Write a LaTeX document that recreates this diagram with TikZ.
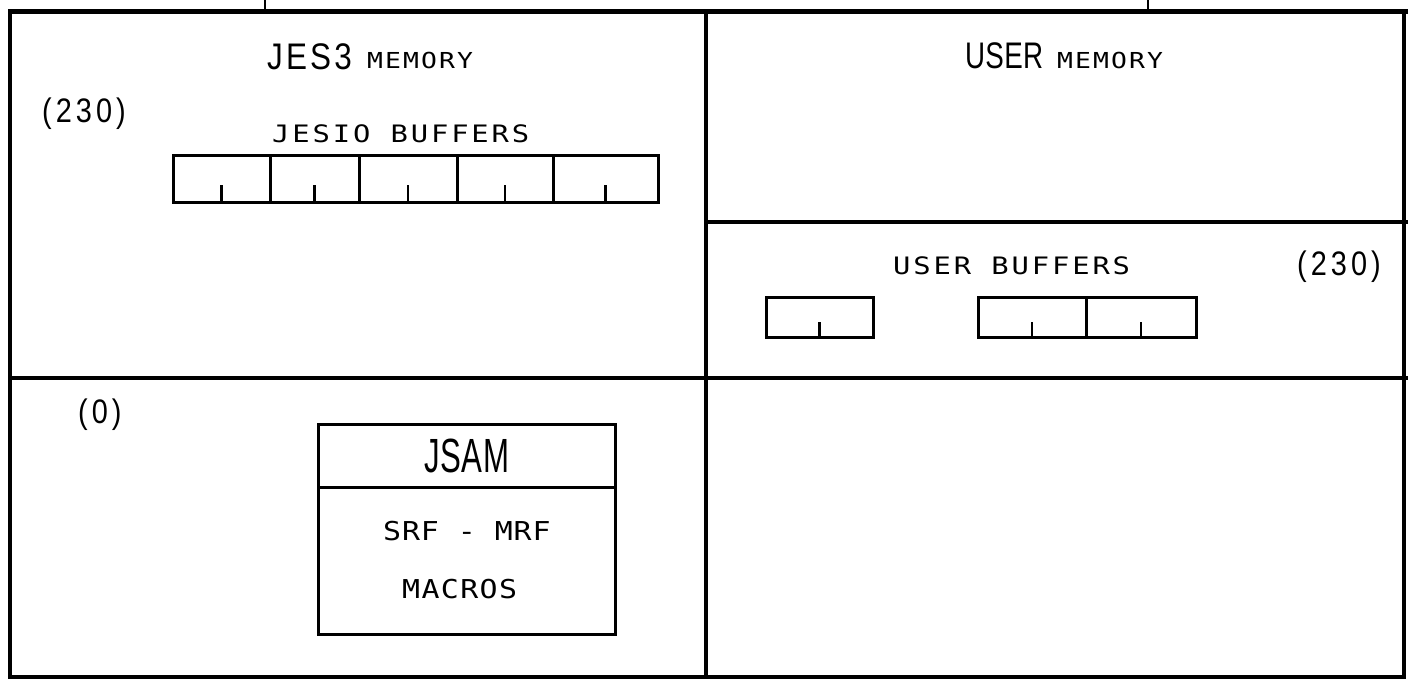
\documentclass[tikz,border=0pt]{standalone}
\usepackage{fontspec}
\usepackage{graphicx}
\setmonofont{DejaVu Sans Mono}
\setsansfont{Liberation Sans}
\newcommand\lbl[4]{\scalebox{#1}[1]{\ttfamily\fontsize{#2}{#2}\selectfont\addfontfeature{LetterSpace=#3}#4}}
\newcommand\slbl[4]{\scalebox{#1}[1]{\sffamily\fontsize{#2}{#2}\selectfont\addfontfeature{LetterSpace=#3}#4}}
\begin{document}
\begin{tikzpicture}[x=1pt,y=-1pt,
  frame/.style={line width=3.8pt},
  cell/.style={draw,line width=3pt,inner sep=0pt,minimum height=47pt},
  ucell/.style={draw,line width=3pt,inner sep=0pt,minimum height=40pt},
  tick/.style={line width=2.8pt},
  txt/.style={inner sep=0pt,anchor=base west}]
\useasboundingbox (0,0) rectangle (1408,681);
% frame
\draw[line width=5pt] (8,11) -- (1408,11);
\draw[line width=2.5pt] (265,0) -- (265,11);
\draw[line width=2.5pt] (1148,0) -- (1148,11);
\draw[frame] (10,10) -- (10,677) -- (1404,677) -- (1404,10);
\draw[frame] (706,11) -- (706,677);
\draw[line width=4.5pt] (10,378) -- (1408,378);
\draw[frame] (706,222) -- (1408,222);
% headings
\node[txt] (jes3) at (267,69) {\slbl{0.85}{37}{10}{JES3}};
\node[txt] (jmem) at (367,68) {\lbl{1.2}{22}{8}{MEMORY}};
\node[txt] (user) at (965,68) {\slbl{0.75}{37}{1}{USER}};
\node[txt] (umem) at (1057,68) {\lbl{1.2}{22}{8}{MEMORY}};
\node[txt] (n230a) at (42,122) {\slbl{0.85}{34}{14}{(230)}};
\node[txt] (n230b) at (1297,275) {\slbl{0.85}{34}{14}{(230)}};
\node[txt] (n0) at (78,423) {\slbl{0.85}{34}{14}{(0)}};
\node[txt] (jesio) at (272,142) {\lbl{1.2}{24}{10}{JESIO BUFFERS}};
\node[txt] (ubuf) at (893,274) {\lbl{1.2}{24}{10}{USER BUFFERS}};
% JESIO buffers
\node[cell,minimum width=97pt] (j1) at (221.5,178.5) {};
\node[cell,minimum width=89pt] (j2) at (314.5,178.5) {};
\node[cell,minimum width=98pt] (j3) at (408,178.5) {};
\node[cell,minimum width=96pt] (j4) at (505,178.5) {};
\node[cell,minimum width=105pt] (j5) at (605.5,178.5) {};
\foreach \c in {j1,j2,j3,j4,j5}{\draw[tick] (\c.south) -- ++(0,-19);}
% user buffers
\node[ucell,minimum width=107pt] (u1) at (819.5,317) {};
\node[ucell,minimum width=108pt] (u2) at (1032,317) {};
\node[ucell,minimum width=110pt] (u3) at (1141,317) {};
\foreach \c in {u1,u2,u3}{\draw[tick] (\c.south) -- ++(0,-17);}
% JSAM box
\node[draw,line width=3pt,inner sep=0pt,minimum width=297pt,minimum height=63pt] (jsamhd) at (466.5,455.5) {};
\node[draw,line width=3pt,inner sep=0pt,minimum width=297pt,minimum height=147pt] (jsambd) at (466.5,560.5) {};
\node[txt] (jsam) at (424,472) {\slbl{0.65}{48}{2}{JSAM}};
\node[txt] (srf) at (383,540) {\lbl{1.15}{26}{3}{SRF - MRF}};
\node[txt] (macros) at (402,598) {\lbl{1.15}{26}{4.6}{MACROS}};
\end{tikzpicture}
\end{document}
